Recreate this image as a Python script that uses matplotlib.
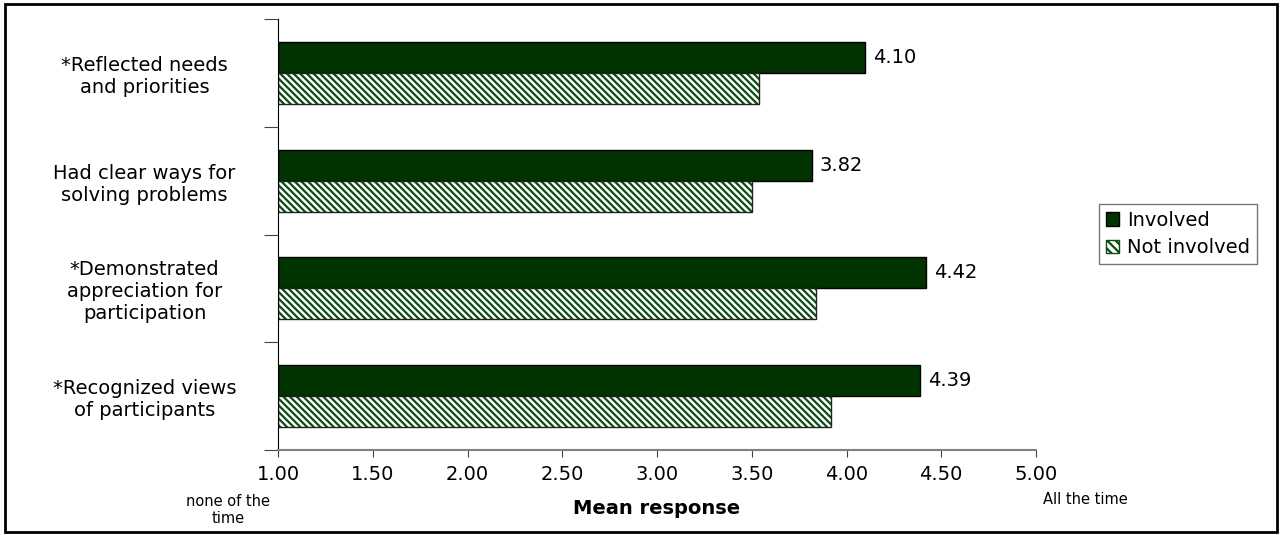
import matplotlib.pyplot as plt
import matplotlib.patches as mpatches
import numpy as np

# mean responses per item
items = ['*Reflected needs\nand priorities',
         'Had clear ways for\nsolving problems',
         '*Demonstrated\nappreciation for\nparticipation',
         '*Recognized views\nof participants']
involved = [4.10, 3.82, 4.42, 4.39]
not_involved = [3.54, 3.50, 3.84, 3.92]
x_ticks = [1.00, 1.50, 2.00, 2.50, 3.00, 3.50, 4.00, 4.50, 5.00]

plt.rcParams['font.family'] = 'DejaVu Sans'
plt.rcParams['hatch.linewidth'] = 1.6

fig = plt.figure(figsize=(12.8, 5.35), dpi=100)
ax = fig.add_axes([278/1280, 1 - 450/535, (1036 - 278)/1280, (450 - 19)/535])

dark = '#003300'
stripe = '#0b4a12'
h = 0.288
y = np.arange(len(items))[::-1]  # first item on top

ax.barh(y + h/2, np.array(involved) - 1, height=h, left=1, color=dark,
        edgecolor='black', linewidth=1)
# hatched bars: stripes first, then a plain outline on top
ax.barh(y - h/2, np.array(not_involved) - 1, height=h, left=1, color='white',
        edgecolor=stripe, linewidth=0, hatch='\\' * 5)
ax.barh(y - h/2, np.array(not_involved) - 1, height=h, left=1, fill=False,
        edgecolor='#222222', linewidth=1)

for yi, v in zip(y, involved):
    ax.text(v + 0.04, yi + h/2, f'{v:.2f}', va='center', ha='left', fontsize=14)

ax.set_xlim(1, 5)
ax.set_ylim(-0.5, len(items) - 0.5)
ax.set_xticks(x_ticks)
ax.set_xticklabels([f'{t:.2f}' for t in x_ticks], fontsize=14)

# tick marks between groups, labels at group centres
ax.set_yticks(np.arange(len(items) + 1) - 0.5)
ax.set_yticklabels([])
ax.set_yticks(y, minor=True)
ax.set_yticklabels(items, minor=True, fontsize=14, ha='center', multialignment='center')
ax.tick_params(axis='y', which='minor', length=0, pad=96)
ax.tick_params(axis='y', which='major', length=10, direction='out', color='#444444')
ax.tick_params(axis='x', length=5, direction='out', color='#444444', pad=6)

ax.spines['top'].set_visible(False)
ax.spines['right'].set_visible(False)
ax.spines['bottom'].set_color('#808080')
ax.spines['bottom'].set_linewidth(1.5)
ax.spines['left'].set_color('black')

fig.text(657/1280, 1 - 508/535, 'Mean response', ha='center', va='center',
         fontsize=14, fontweight='bold')
fig.text(228/1280, 1 - 510/535, 'none of the\ntime', ha='center', va='center',
         fontsize=10.5, linespacing=1.1)
fig.text(1085/1280, 1 - 500/535, 'All the time', ha='center', va='center', fontsize=10.5)

handles = [mpatches.Patch(facecolor=dark, edgecolor='black', label='Involved'),
           mpatches.Patch(facecolor='white', edgecolor=stripe, hatch='\\' * 4,
                          label='Not involved')]
fig.legend(handles=handles, loc='center', bbox_to_anchor=(1178/1280, 1 - 234/535),
           fontsize=14, frameon=True, fancybox=False, edgecolor='#555555',
           handlelength=0.7, handleheight=0.7, handletextpad=0.4,
           borderpad=0.35, labelspacing=0.45, borderaxespad=0)

# outer frame
fig.patches.append(mpatches.Rectangle((5/1280, 3/535), 1272/1280, 528/535,
                                      transform=fig.transFigure, fill=False,
                                      edgecolor='black', linewidth=2))

fig.savefig('out.png', dpi=100)
